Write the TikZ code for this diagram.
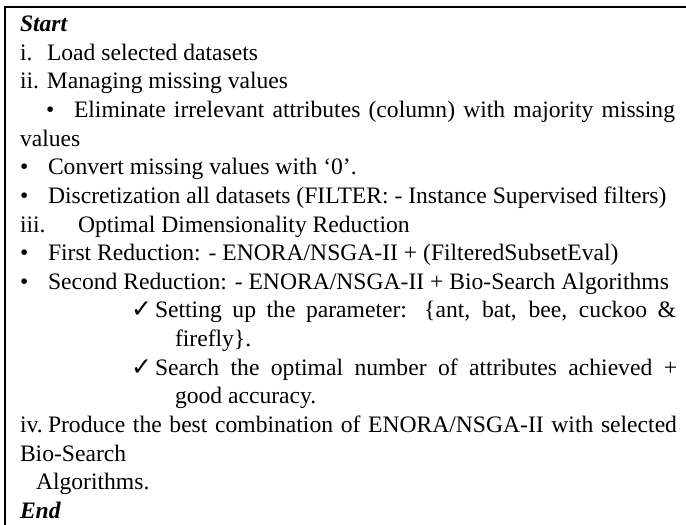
\documentclass[tikz,border=0pt]{standalone}
\usepackage{fontspec}
\setmainfont{Liberation Serif}
\newfontfamily\symfont{DejaVu Sans}
\begin{document}
\begin{tikzpicture}[x=1pt,y=-1pt,
  txt/.style={anchor=base west, inner sep=0pt, outer sep=0pt, font=\fontsize{23.6}{28}\selectfont},
  chk/.style={anchor=base west, inner sep=0pt, outer sep=0pt, font=\symfont\fontsize{25}{28}\selectfont}]
\useasboundingbox (0,0) rectangle (686,525);
\draw[line width=2.2pt] (686,7) -- (5,7) -- (5,525);
\node[txt] (start) at (20,31) {\textbf{\textit{Start}}};
\node[txt] (n1a) at (20,60) {i.};
\node[txt] (n1b) at (47,60) {Load selected datasets};
\node[txt] (n2) at (20,88) {ii. Managing missing values};
\node[txt] (b1) at (46,117) {•};
\node[txt] (n3) at (74,117) {\makebox[601pt][s]{Eliminate irrelevant attributes (column) with majority missing}};
\node[txt] (n4) at (20,146) {values};
\node[txt] (b2) at (20,174) {•};
\node[txt] (n5) at (48,174) {Convert missing values with ‘0’.};
\node[txt] (b3) at (20,203) {•};
\node[txt] (n6) at (48,203) {Discretization all datasets (FILTER: - Instance Supervised filters)};
\node[txt] (n7a) at (20,232) {iii.};
\node[txt] (n7b) at (78,232) {Optimal Dimensionality Reduction};
\node[txt] (b4) at (20,260) {•};
\node[txt] (n8) at (48,260) {First Reduction: - ENORA/NSGA-II + (FilteredSubsetEval)};
\node[txt] (b5) at (20,289) {•};
\node[txt] (n9) at (48,289) {Second Reduction: - ENORA/NSGA-II + Bio-Search Algorithms};
\node[chk] (c1) at (131,317) {✓};
\node[txt] (n10) at (155,317) {\makebox[521pt][s]{Setting up the parameter: \{ant, bat, bee, cuckoo \&}};
\node[txt] (n11) at (175,346) {firefly\}.};
\node[chk] (c2) at (131,375) {✓};
\node[txt] (n12) at (155,375) {\makebox[522pt][s]{Search the optimal number of attributes achieved +}};
\node[txt] (n13) at (175,403) {good accuracy.};
\node[txt] (n14a) at (20,432) {iv.};
\node[txt] (n14b) at (48,432) {\makebox[629pt][s]{Produce the best combination of ENORA/NSGA-II with selected}};
\node[txt] (n15) at (20,461) {Bio-Search};
\node[txt] (n16) at (36,489) {Algorithms.};
\node[txt] (end) at (20,518) {\textbf{\textit{End}}};
\end{tikzpicture}
\end{document}
